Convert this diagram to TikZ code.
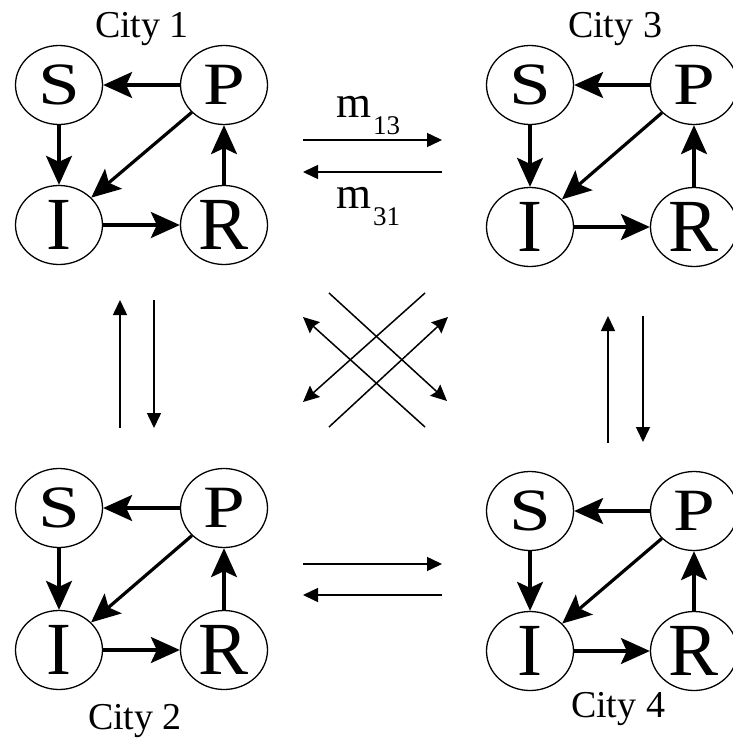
\documentclass[tikz,border=0pt]{standalone}
\usepackage{fontspec}
\setmainfont{Liberation Serif}
\usetikzlibrary{shapes.geometric,arrows.meta}
\tikzset{
  state/.style={draw, ellipse, line width=1.3pt, minimum width=87pt, minimum height=79pt, inner sep=0pt, font=\fontsize{75}{75}\selectfont},
  flow/.style={line width=3.2pt, -{Stealth[length=29pt,width=26pt,inset=6pt]}},
  mig/.style={line width=1.5pt, -{Triangle[length=15pt,width=14pt]}},
  migd/.style={line width=1.5pt, -{Stealth[length=16pt,width=15pt,inset=2pt]}},
  citylabel/.style={anchor=base, font=\fontsize{38}{38}\selectfont, inner sep=0pt},
  mlabel/.style={anchor=base west, font=\fontsize{45}{45}\selectfont, inner sep=0pt}
}
\newcommand{\sq}[1]{\scalebox{1}[0.8]{#1}}
\newcommand{\msub}[1]{\hspace{2pt}\raisebox{-17pt}{\fontsize{27}{27}\selectfont #1}}
\begin{document}
\begin{tikzpicture}[x=1pt,y=-1pt]
\useasboundingbox (0,0) rectangle (732,739);
% City 1
\node[state] (S1) at (59,85) {\sq{S}};
\node[state] (P1) at (224,85) {\sq{P}};
\node[state] (I1) at (59,225) {I};
\node[state] (R1) at (224,225) {R};
% City 3
\node[state] (S3) at (530,85) {\sq{S}};
\node[state] (P3) at (694,85) {\sq{P}};
\node[state] (I3) at (530,227) {I};
\node[state] (R3) at (694,227) {R};
% City 2
\node[state] (S2) at (59,508) {\sq{S}};
\node[state] (P2) at (224,508) {\sq{P}};
\node[state] (I2) at (59,650) {I};
\node[state] (R2) at (224,650) {R};
% City 4
\node[state] (S4) at (530,511) {\sq{S}};
\node[state] (P4) at (694,511) {\sq{P}};
\node[state] (I4) at (530,651) {I};
\node[state] (R4) at (694,651) {R};
\foreach \c in {1,2,3,4}{
  \draw[flow] (P\c) -- (S\c);
  \draw[flow] (S\c) -- (I\c);
  \draw[flow] (P\c) -- (I\c);
  \draw[flow] (I\c) -- (R\c);
  \draw[flow] (R\c) -- (P\c);
}
% labels
\node[citylabel] (L1) at (142,37) {City 1};
\node[citylabel] (L3) at (615,37) {City 3};
\node[citylabel] (L2) at (135,729) {City 2};
\node[citylabel] (L4) at (618,717) {City 4};
\node[mlabel] (m13) at (336,117) {m\msub{13}};
\node[mlabel] (m31) at (336,208) {m\msub{31}};
% migration coordinates
\coordinate (h1a) at (303,140); \coordinate (h1b) at (442,140);
\coordinate (h2a) at (442,172); \coordinate (h2b) at (303,172);
\coordinate (h3a) at (303,564); \coordinate (h3b) at (442,564);
\coordinate (h4a) at (442,595); \coordinate (h4b) at (303,595);
\coordinate (v1a) at (120,428); \coordinate (v1b) at (120,300);
\coordinate (v2a) at (154,300); \coordinate (v2b) at (154,428);
\coordinate (v3a) at (608,443); \coordinate (v3b) at (608,316);
\coordinate (v4a) at (643,316); \coordinate (v4b) at (643,442);
\coordinate (dAa) at (329,293); \coordinate (dAb) at (447,401);
\coordinate (dBa) at (425,293); \coordinate (dBb) at (303,402);
\coordinate (dCa) at (329,427); \coordinate (dCb) at (448,317);
\coordinate (dDa) at (425,427); \coordinate (dDb) at (303,317);
\draw[mig] (h1a) -- (h1b);
\draw[mig] (h2a) -- (h2b);
\draw[mig] (h3a) -- (h3b);
\draw[mig] (h4a) -- (h4b);
\draw[mig] (v1a) -- (v1b);
\draw[mig] (v2a) -- (v2b);
\draw[mig] (v3a) -- (v3b);
\draw[mig] (v4a) -- (v4b);
\draw[migd] (dAa) -- (dAb);
\draw[migd] (dBa) -- (dBb);
\draw[migd] (dCa) -- (dCb);
\draw[migd] (dDa) -- (dDb);
\end{tikzpicture}
\end{document}
